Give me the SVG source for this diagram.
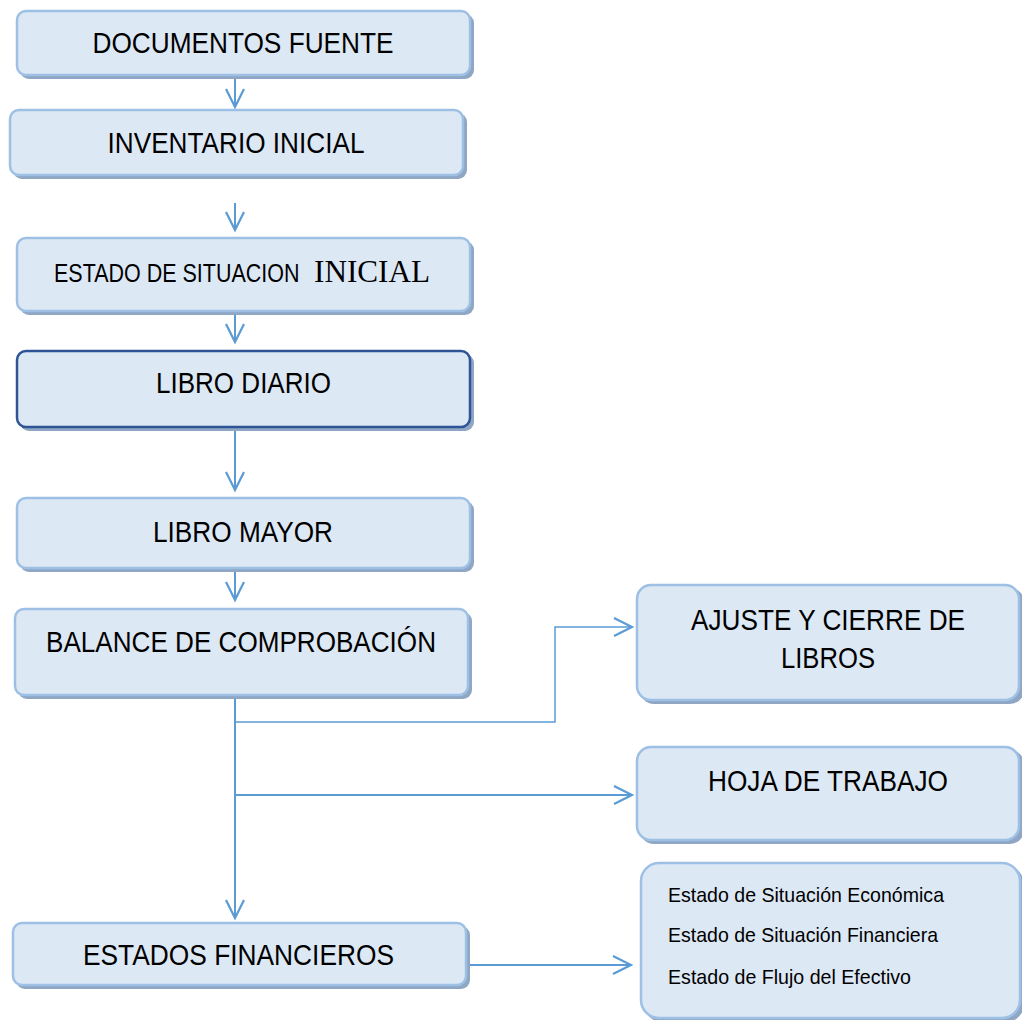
<svg xmlns="http://www.w3.org/2000/svg" width="1022" height="1020" viewBox="0 0 1022 1020">
<defs>
<style>
.box{fill:#dde8f5;stroke:#9dc0e4;stroke-width:2.5}
.dark{stroke:#2f5496;stroke-width:2.5}
.sh{fill:#8fa7c4}
.t{font-family:"Liberation Sans",Arial,sans-serif;font-size:29px;fill:#000;text-anchor:middle}
.s{font-family:"Liberation Sans",Arial,sans-serif;font-size:21px;fill:#000}
.c{fill:none;stroke:#5b9bd5;stroke-width:2}
.thin{stroke-width:1.5}
</style>
<marker id="ah" markerUnits="userSpaceOnUse" markerWidth="22" markerHeight="22" refX="19" refY="10" orient="auto" viewBox="0 0 22 22">
<path d="M1,1 L19,10 L1,19" fill="none" stroke="#5b9bd5" stroke-width="2.2"/>
</marker>
</defs>
<rect width="1022" height="1020" fill="#fff"/>
<g id="connectors">
<line class="c" x1="235" y1="78" x2="235" y2="107" marker-end="url(#ah)"/>
<line class="c" x1="235" y1="203" x2="235" y2="230" marker-end="url(#ah)"/>
<line class="c" x1="235" y1="314" x2="235" y2="342" marker-end="url(#ah)"/>
<line class="c" x1="235" y1="430" x2="235" y2="490" marker-end="url(#ah)"/>
<line class="c" x1="235" y1="572" x2="235" y2="600" marker-end="url(#ah)"/>
<line class="c" x1="235" y1="698" x2="235" y2="918" marker-end="url(#ah)"/>
<polyline class="c thin" points="235,722 555,722 555,627 632,627" marker-end="url(#ah)"/>
<line class="c" x1="235" y1="795" x2="632" y2="795" marker-end="url(#ah)"/>
<line class="c" x1="467" y1="965" x2="631" y2="965" marker-end="url(#ah)"/>
</g>
<g id="n1">
<rect class="sh" x="20" y="14" width="454" height="65" rx="9"/>
<rect class="box" x="17" y="11" width="453" height="64" rx="9"/>
<text class="t" x="243" y="53" textLength="301" lengthAdjust="spacingAndGlyphs">DOCUMENTOS FUENTE</text>
</g>
<g id="n2">
<rect class="sh" x="13" y="113" width="454" height="66" rx="9"/>
<rect class="box" x="10" y="110" width="453" height="65" rx="9"/>
<text class="t" x="236" y="153" textLength="257" lengthAdjust="spacingAndGlyphs">INVENTARIO INICIAL</text>
</g>
<g id="n3">
<rect class="sh" x="20" y="241" width="454" height="74" rx="9"/>
<rect class="box" x="17" y="238" width="453" height="73" rx="9"/>
<text transform="translate(54,282) scale(0.86,1)" x="0" y="0" style="font-family:'Liberation Sans',Arial,sans-serif;font-size:25px">ESTADO DE SITUACION</text>
<text x="314" y="282" style="font-family:'Liberation Serif','Times New Roman',serif;font-size:31px" textLength="116" lengthAdjust="spacingAndGlyphs">INICIAL</text>
</g>
<g id="n4">
<rect class="sh" x="20" y="354" width="454" height="77" rx="9"/>
<rect class="box dark" x="17" y="351" width="453" height="76" rx="9"/>
<text class="t" x="243.5" y="393" textLength="175" lengthAdjust="spacingAndGlyphs">LIBRO DIARIO</text>
</g>
<g id="n5">
<rect class="sh" x="20" y="501" width="454" height="71" rx="9"/>
<rect class="box" x="17" y="498" width="453" height="70" rx="9"/>
<text class="t" x="243" y="542" textLength="180" lengthAdjust="spacingAndGlyphs">LIBRO MAYOR</text>
</g>
<g id="n6">
<rect class="sh" x="18" y="612" width="454" height="87" rx="9"/>
<rect class="box" x="15" y="609" width="453" height="86" rx="9"/>
<text class="t" x="241" y="652" textLength="390" lengthAdjust="spacingAndGlyphs">BALANCE DE COMPROBACIÓN</text>
</g>
<g id="n7">
<rect class="sh" x="16" y="926" width="454" height="63" rx="9"/>
<rect class="box" x="13" y="923" width="453" height="62" rx="9"/>
<text class="t" x="238.5" y="965" textLength="311" lengthAdjust="spacingAndGlyphs">ESTADOS FINANCIEROS</text>
</g>
<g id="n8">
<rect class="sh" x="640" y="588" width="384" height="116" rx="14"/>
<rect class="box" x="637" y="585" width="382" height="115" rx="14"/>
<text class="t" x="828" y="630" textLength="274" lengthAdjust="spacingAndGlyphs">AJUSTE Y CIERRE DE</text>
<text class="t" x="828" y="668" textLength="94" lengthAdjust="spacingAndGlyphs">LIBROS</text>
</g>
<g id="n9">
<rect class="sh" x="640" y="750" width="384" height="94" rx="14"/>
<rect class="box" x="637" y="747" width="382" height="93" rx="14"/>
<text class="t" x="828" y="791" textLength="240" lengthAdjust="spacingAndGlyphs">HOJA DE TRABAJO</text>
</g>
<g id="n10">
<rect class="sh" x="644" y="866" width="380" height="156" rx="18"/>
<rect class="box" x="641" y="863" width="379" height="155" rx="18"/>
<text class="s" x="668" y="902" textLength="276" lengthAdjust="spacingAndGlyphs">Estado de Situación Económica</text>
<text class="s" x="668" y="942" textLength="270" lengthAdjust="spacingAndGlyphs">Estado de Situación Financiera</text>
<text class="s" x="668" y="984" textLength="243" lengthAdjust="spacingAndGlyphs">Estado de Flujo del Efectivo</text>
</g>
</svg>
